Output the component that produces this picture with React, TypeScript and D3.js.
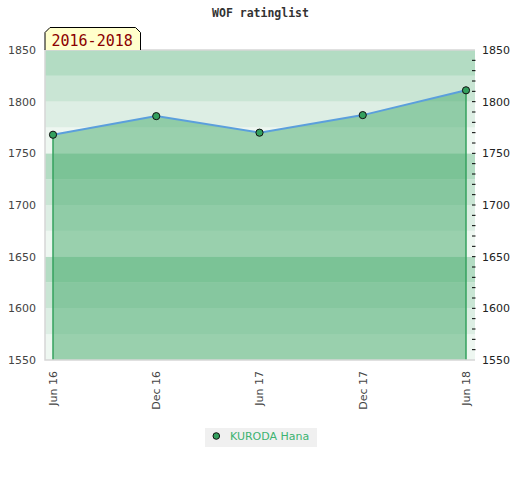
import React from 'react';
import * as d3 from 'd3';

// rating history
const periods = ['Jun 16', 'Dec 16', 'Jun 17', 'Dec 17', 'Jun 18'];
const ratings = [1768, 1786, 1770, 1787, 1811];
const playerName = 'KURODA Hana';
const rangeLabel = '2016-2018';

// axis labels and background bands
const yTicks = [1550, 1600, 1650, 1700, 1750, 1800, 1850];
const bandStarts = [1550, 1575, 1600, 1625, 1650, 1675, 1700, 1725, 1750, 1775, 1800, 1825];
const bandColors = ['#eef7f1', '#ddeee4', '#c9e5d4', '#b3dcc3'];

const W = 520;
const H = 480;
const plot = { left: 45, right: 475, top: 50, bottom: 360 };

export default function App() {
    const y = d3.scaleLinear().domain([1550, 1850]).range([plot.bottom, plot.top]);
    const x = d3.scalePoint<string>().domain(periods).range([53, 466]);

    const pts = periods.map((p, i) => ({ p, v: ratings[i] }));
    const first = pts[0];
    const last = pts[pts.length - 1];

    const area = d3.area<{ p: string; v: number }>()
        .x(d => x(d.p)!)
        .y0(y(1550))
        .y1(d => y(d.v));

    const line = d3.line<{ p: string; v: number }>()
        .x(d => x(d.p)!)
        .y(d => y(d.v));

    const minor = y.ticks(30).filter(t => t > 1550 && t < 1850);

    const labelFont = 'DejaVu Sans, sans-serif';
    const monoFont = 'DejaVu Sans Mono, monospace';

    return (
        <svg width={W} height={H} viewBox={`0 0 ${W} ${H}`}
            style={{ position: 'absolute', left: 0, top: 0, background: '#fff' }}>
            {/* title */}
            <text x={260.5} y={17} textAnchor="middle" fontFamily={monoFont}
                fontWeight="bold" fontSize={11.5} fill="#333">WOF ratinglist</text>

            {/* bands */}
            {bandStarts.map((b, i) => (
                <rect key={b} x={plot.left} width={plot.right - plot.left}
                    y={y(b + 25)} height={y(b) - y(b + 25)}
                    fill={bandColors[i % 4]} />
            ))}

            {/* series */}
            <path d={area(pts)!} fill="rgb(68,169,105)" fillOpacity={0.5} />
            <line x1={x(first.p)} x2={x(first.p)} y1={y(first.v)} y2={y(1550)}
                stroke="#35a25e" strokeWidth={1.5} />
            <line x1={x(last.p)} x2={x(last.p)} y1={y(last.v)} y2={y(1550)}
                stroke="#35a25e" strokeWidth={1.5} />

            {/* border */}
            <path d={`M${plot.right},${plot.top}H${plot.left}V${plot.bottom}H${plot.right}`}
                fill="none" stroke="#d6d6d6" strokeWidth={1.5} />

            <path d={line(pts)!} fill="none" stroke="#5b9fdc" strokeWidth={2} />
            {pts.map(d => (
                <circle key={d.p} cx={x(d.p)} cy={y(d.v)} r={3.6}
                    fill="#33a05e" stroke="#111" strokeWidth={1} />
            ))}

            {/* range label */}
            <path d={`M${plot.left},${plot.top}V32.5L50,27.5H135.5L140.5,32.5V${plot.top}`}
                fill="#ffffcc" stroke="#000" strokeWidth={1} />
            <text x={51.5} y={45.5} fontFamily={monoFont} fontSize={15} fill="#8b0000">{rangeLabel}</text>

            {/* left axis labels */}
            {yTicks.map(t => (
                <text key={'l' + t} x={36} y={y(t)} dy="0.36em" textAnchor="end"
                    fontFamily={labelFont} fontSize={11} fill="#444">{t}</text>
            ))}

            {/* right axis */}
            {minor.map(t => (
                <line key={'m' + t} x1={472} x2={475.5} y1={y(t)} y2={y(t)}
                    stroke="#000" strokeWidth={1} />
            ))}
            {yTicks.map(t => (
                <text key={'r' + t} x={482} y={y(t)} dy="0.36em"
                    fontFamily={labelFont} fontSize={11} fill="#222">{t}</text>
            ))}

            {/* x axis labels */}
            {periods.map(p => (
                <text key={p} transform={`translate(${x(p)},371) rotate(-90)`}
                    dy="0.36em" textAnchor="end" fontFamily={labelFont}
                    fontSize={11} fill="#444">{p}</text>
            ))}

            {/* legend */}
            <rect x={205} y={428} width={112} height={19} fill="#f0f0f0" />
            <circle cx={216.3} cy={436} r={3.3} fill="#33a05e" stroke="#111" strokeWidth={1} />
            <text x={230} y={436} dy="0.36em" fontFamily={labelFont} fontSize={11}
                fill="#3cb371">{playerName}</text>
        </svg>
    );
}
